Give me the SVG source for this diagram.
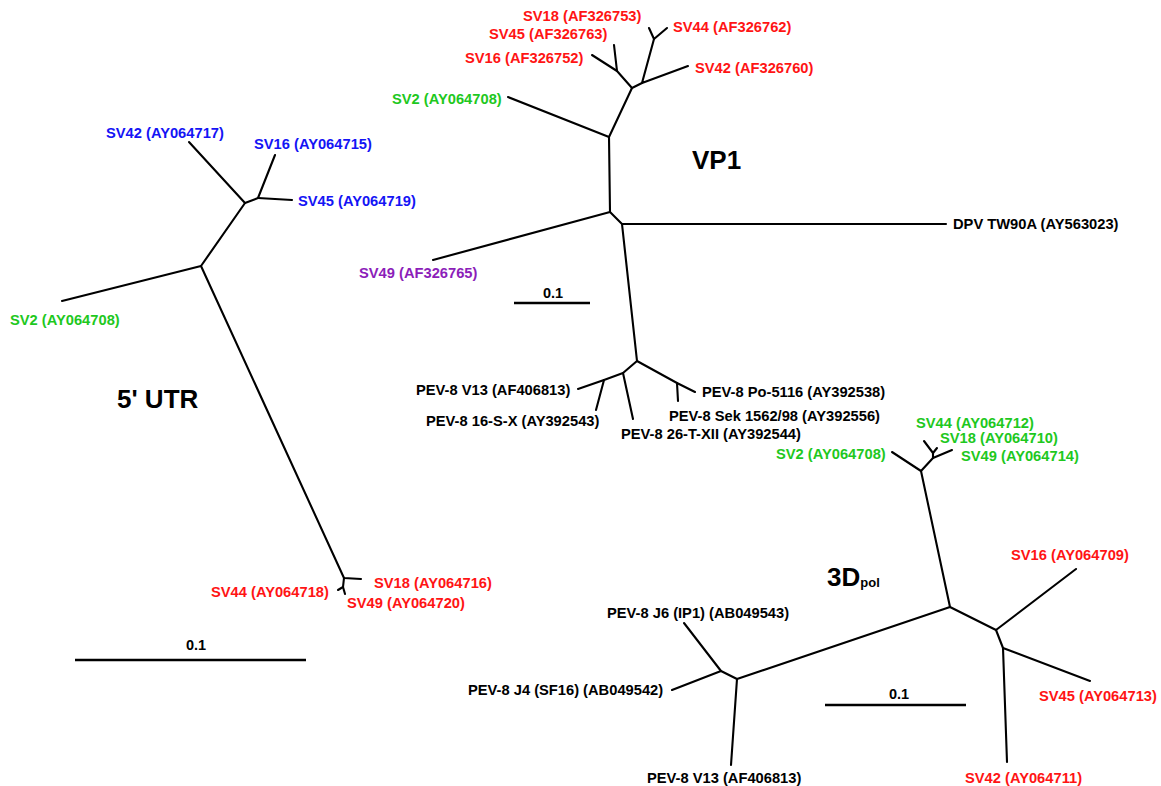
<svg xmlns="http://www.w3.org/2000/svg" width="1161" height="786" viewBox="0 0 1161 786">
<style>
text{font-family:"Liberation Sans",Arial,sans-serif;font-weight:bold;font-size:14.7px}
.k{fill:#000}.r{fill:#ff1414}.g{fill:#1ec81e}.b{fill:#1414f5}.p{fill:#8c1eb9}
.t{font-size:26px}
.s{font-size:14.5px}
.e{stroke:#000;stroke-width:2.1;fill:none;stroke-linecap:round;stroke-linejoin:round}
.bar{stroke:#000;stroke-width:2.5}
</style>
<rect width="1161" height="786" fill="#fff"/>
<g id="connectors" class="e">
<!-- 5' UTR -->
<polyline points="189,142 245,203 258,198 275,155"/>
<line x1="258" y1="198" x2="292" y2="200"/>
<polyline points="245,203 201,266 62,301"/>
<polyline points="201,266 344,578 361,579"/>
<polyline points="344,578 343,587 338,590"/>
<line x1="343" y1="587" x2="345" y2="594"/>
<!-- VP1 -->
<polyline points="649,28 654,39 667,28"/>
<polyline points="654,39 642,83 688,66"/>
<polyline points="642,83 632,88 617,71 592,55"/>
<line x1="617" y1="71" x2="614" y2="45"/>
<polyline points="632,88 609,137 508,97"/>
<polyline points="609,137 610,212 433,260"/>
<polyline points="610,212 622,224 946,224"/>
<polyline points="622,224 637,361 623,373 604,380 578,389"/>
<line x1="604" y1="380" x2="596" y2="410"/>
<line x1="623" y1="373" x2="633" y2="419"/>
<polyline points="637,361 677,383 695,392"/>
<line x1="677" y1="383" x2="678" y2="401"/>
<!-- 3Dpol -->
<polyline points="892,452 921,471 933,458 952,450"/>
<polyline points="933,458 933,453 924,441"/>
<line x1="933" y1="453" x2="937" y2="448"/>
<polyline points="921,471 950,607 996,630 1076,569"/>
<polyline points="996,630 1003,648 1090,681"/>
<line x1="1003" y1="648" x2="1007" y2="762"/>
<polyline points="950,607 737,679 721,671 684,623"/>
<line x1="721" y1="671" x2="672" y2="690"/>
<line x1="737" y1="679" x2="731" y2="765"/>
</g>
<g id="scalebars">
<line class="bar" x1="75" y1="660" x2="306" y2="660"/>
<text class="s" x="196" y="650" text-anchor="middle">0.1</text>
<line class="bar" x1="514" y1="303" x2="590" y2="303"/>
<text class="s" x="553" y="298" text-anchor="middle">0.1</text>
<line class="bar" x1="825" y1="705" x2="966" y2="705"/>
<text class="s" x="899" y="699" text-anchor="middle">0.1</text>
</g>
<g id="titles">
<text class="t" x="692" y="169">VP1</text>
<text class="t" x="117" y="408">5' UTR</text>
<text class="t" x="827" y="586">3D<tspan font-size="13px" dy="1">pol</tspan></text>
</g>
<g id="utr5">
<g id="u-sv42"><text class="b" x="106" y="138">SV42 (AY064717)</text></g>
<g id="u-sv16"><text class="b" x="254" y="149">SV16 (AY064715)</text></g>
<g id="u-sv45"><text class="b" x="298" y="206">SV45 (AY064719)</text></g>
<g id="u-sv2"><text class="g" x="10" y="325">SV2 (AY064708)</text></g>
<g id="u-sv18"><text class="r" x="374" y="588">SV18 (AY064716)</text></g>
<g id="u-sv44"><text class="r" x="211" y="597">SV44 (AY064718)</text></g>
<g id="u-sv49"><text class="r" x="347" y="608">SV49 (AY064720)</text></g>
</g>
<g id="vp1">
<g id="v-sv18"><text class="r" x="523" y="21">SV18 (AF326753)</text></g>
<g id="v-sv45"><text class="r" x="489" y="39">SV45 (AF326763)</text></g>
<g id="v-sv16"><text class="r" x="465" y="63">SV16 (AF326752)</text></g>
<g id="v-sv44"><text class="r" x="673" y="32">SV44 (AF326762)</text></g>
<g id="v-sv42"><text class="r" x="695" y="73">SV42 (AF326760)</text></g>
<g id="v-sv2"><text class="g" x="392" y="104">SV2 (AY064708)</text></g>
<g id="v-sv49"><text class="p" x="359" y="278">SV49 (AF326765)</text></g>
<g id="v-dpv"><text class="k" x="953" y="229">DPV TW90A (AY563023)</text></g>
<g id="v-v13"><text class="k" x="416" y="395">PEV-8 V13 (AF406813)</text></g>
<g id="v-16sx"><text class="k" x="426" y="426">PEV-8 16-S-X (AY392543)</text></g>
<g id="v-26t"><text class="k" x="621" y="439">PEV-8 26-T-XII (AY392544)</text></g>
<g id="v-sek"><text class="k" x="669" y="421">PEV-8 Sek 1562/98 (AY392556)</text></g>
<g id="v-po"><text class="k" x="702" y="397">PEV-8 Po-5116 (AY392538)</text></g>
</g>
<g id="pol3d">
<g id="p-sv44"><text class="g" x="916" y="428">SV44 (AY064712)</text></g>
<g id="p-sv18"><text class="g" x="940" y="443">SV18 (AY064710)</text></g>
<g id="p-sv49"><text class="g" x="961" y="461">SV49 (AY064714)</text></g>
<g id="p-sv2"><text class="g" x="776" y="459">SV2 (AY064708)</text></g>
<g id="p-sv16"><text class="r" x="1011" y="560">SV16 (AY064709)</text></g>
<g id="p-sv45"><text class="r" x="1039" y="701">SV45 (AY064713)</text></g>
<g id="p-sv42"><text class="r" x="965" y="783">SV42 (AY064711)</text></g>
<g id="p-j6"><text class="k" x="607" y="618">PEV-8 J6 (IP1) (AB049543)</text></g>
<g id="p-j4"><text class="k" x="468" y="695">PEV-8 J4 (SF16) (AB049542)</text></g>
<g id="p-v13"><text class="k" x="647" y="783">PEV-8 V13 (AF406813)</text></g>
</g>
</svg>
